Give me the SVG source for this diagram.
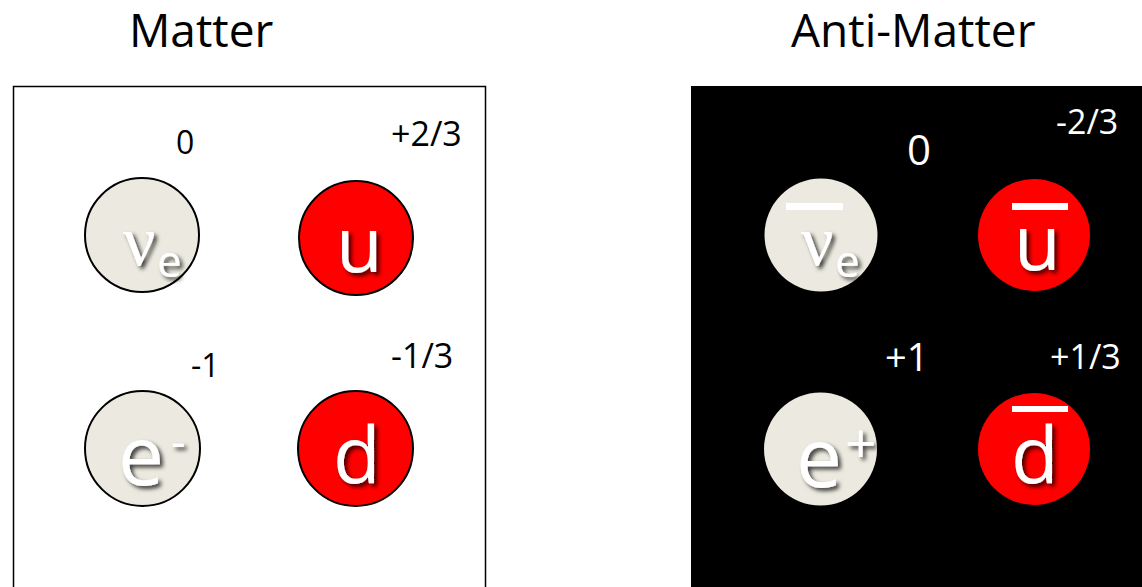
<svg xmlns="http://www.w3.org/2000/svg" width="1142" height="587" viewBox="0 0 1142 587">
<defs>
<filter id="sh" x="-30%" y="-30%" width="160%" height="160%">
<feDropShadow dx="3" dy="3" stdDeviation="2" flood-color="#000" flood-opacity="0.75"/>
</filter>
<style>
.title{font-family:"Open Sans","Liberation Sans",sans-serif;font-size:46px;fill:#000}
.q{font-family:"Open Sans","Liberation Sans",sans-serif}
.qb{fill:#000}.qw{fill:#fff}
.lep{fill:#ECEAE0}
.qk{fill:#FF0000}
.stk{stroke:#000;stroke-width:2}
.sym{font-family:"Open Sans","Liberation Sans",sans-serif;fill:#fff;filter:url(#sh)}
.nu{font-family:"Liberation Serif","DejaVu Serif",serif;fill:#fff;filter:url(#sh)}
.bar{fill:#fff}
</style>
</defs>
<rect width="1142" height="587" fill="#fff"/>
<text class="title" x="129" y="47">Matter</text>
<text class="title" x="791" y="47">Anti-Matter</text>

<g id="matter-panel">
<rect x="13.5" y="86.5" width="472" height="520" fill="#fff" stroke="#000" stroke-width="1.5"/>
</g>
<g id="antimatter-panel">
<rect x="691" y="86" width="451" height="501" fill="#000"/>
</g>

<g id="nu-e">
<circle class="lep stk" cx="142" cy="235" r="57"/>
<text class="nu" x="123" y="265" font-size="72">ν</text>
<text class="sym" x="157" y="277" font-size="44">e</text>
<text class="q qb" x="176" y="154" font-size="32">0</text>
</g>
<g id="up">
<circle class="qk stk" cx="356" cy="238" r="57"/>
<text class="sym" x="336" y="272" font-size="76">u</text>
<text class="q qb" x="391" y="146" font-size="34">+2/3</text>
</g>
<g id="electron">
<circle class="lep stk" cx="142.5" cy="448.5" r="57.5"/>
<text class="sym" x="118" y="485" font-size="82">e</text>
<text class="sym" x="171" y="458" font-size="45">-</text>
<text class="q qb" x="191" y="377" font-size="32">-1</text>
</g>
<g id="down">
<circle class="qk stk" cx="355.5" cy="448.5" r="57.5"/>
<text class="sym" x="333" y="483" font-size="78">d</text>
<text class="q qb" x="391" y="368" font-size="34">-1/3</text>
</g>

<g id="anti-nu-e">
<circle class="lep" cx="821" cy="235" r="56.5"/>
<rect class="bar" x="786" y="203" width="57" height="7"/>
<text class="nu" x="801" y="265" font-size="72">ν</text>
<text class="sym" x="835" y="277" font-size="44">e</text>
<text class="q qw" x="907" y="165" font-size="42">0</text>
</g>
<g id="anti-up">
<circle class="qk" cx="1034" cy="235" r="56"/>
<rect class="bar" x="1012" y="203" width="56" height="7"/>
<text class="sym" x="1014" y="270" font-size="76">u</text>
<text class="q qw" x="1056" y="134" font-size="34">-2/3</text>
</g>
<g id="positron">
<circle class="lep" cx="820.5" cy="449" r="56.5"/>
<text class="sym" x="796" y="487" font-size="82">e</text>
<text class="sym" x="845" y="463" font-size="55">+</text>
<text class="q qw" x="885" y="371" font-size="38">+1</text>
</g>
<g id="anti-down">
<circle class="qk" cx="1034" cy="449" r="56"/>
<rect class="bar" x="1012" y="406" width="56" height="6"/>
<text class="sym" x="1011" y="483" font-size="78">d</text>
<text class="q qw" x="1050" y="369" font-size="34">+1/3</text>
</g>
</svg>
